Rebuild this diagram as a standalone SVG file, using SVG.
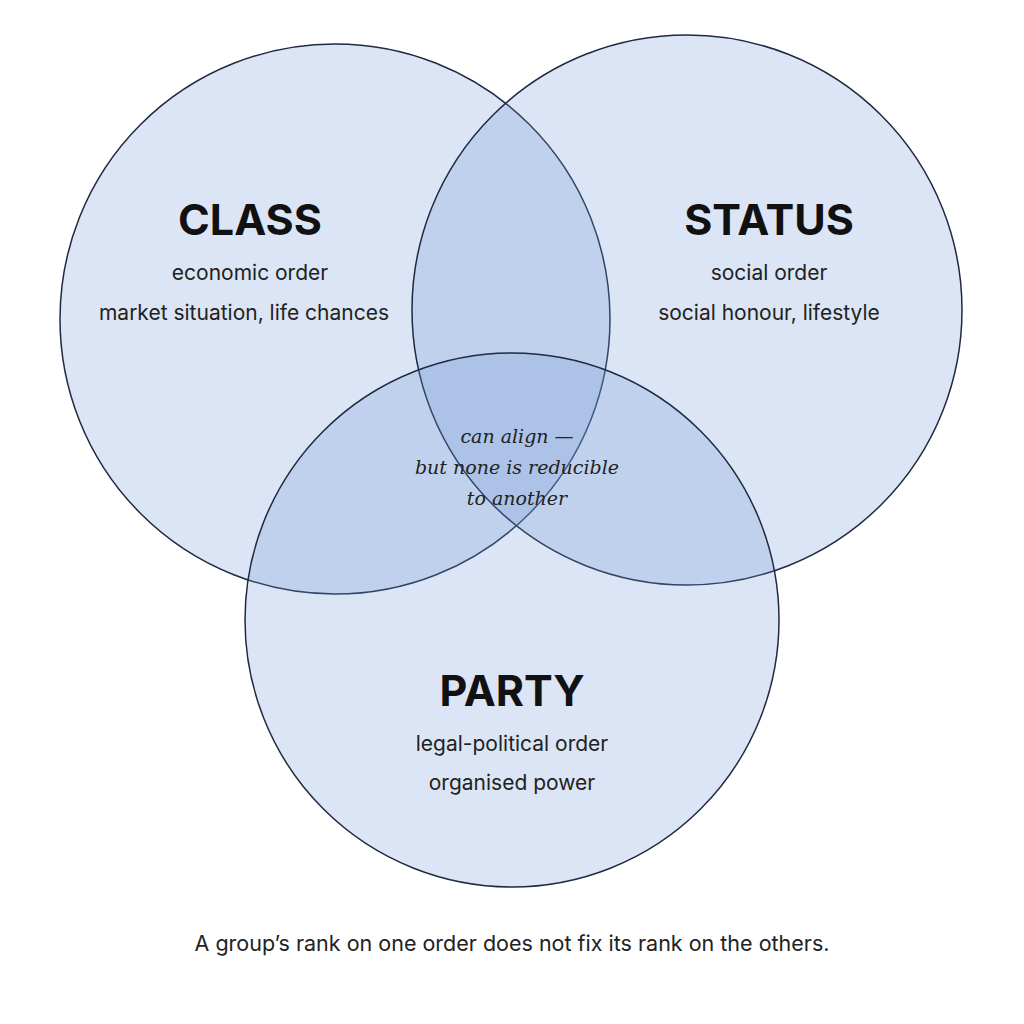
<svg xmlns="http://www.w3.org/2000/svg" width="1024" height="1024" viewBox="0 0 1024 1024">
<style>
.c{fill:#6f96d6;fill-opacity:0.25;stroke:#1f2a40;stroke-width:1.5}
.t{font-family:Inter,"Liberation Sans",sans-serif;font-weight:700;font-size:43px;fill:#111;text-anchor:middle}
.s{font-family:Inter,"Liberation Sans",sans-serif;font-size:21px;fill:#222;text-anchor:middle}
.i{font-family:"DejaVu Serif",serif;font-style:italic;font-size:19px;fill:#222;text-anchor:middle}
</style>
<rect width="1024" height="1024" fill="#fff"/>
<g id="class"><circle class="c" cx="335" cy="319" r="275"/>
<text class="t" x="250" y="235">CLASS</text>
<text class="s" x="250" y="280">economic order</text>
<text class="s" x="244" y="320">market situation, life chances</text></g>
<g id="status"><circle class="c" cx="687" cy="310" r="275"/>
<text class="t" x="769" y="235">STATUS</text>
<text class="s" x="769" y="280">social order</text>
<text class="s" x="769" y="320">social honour, lifestyle</text></g>
<g id="party"><circle class="c" cx="512" cy="620" r="267"/>
<text class="t" x="512" y="706">PARTY</text>
<text class="s" x="512" y="751">legal-political order</text>
<text class="s" x="512" y="790">organised power</text></g>
<g id="center"><text class="i" x="517" y="443">can align —</text>
<text class="i" x="517" y="474">but none is reducible</text>
<text class="i" x="517" y="505">to another</text></g>
<text class="s" x="512" y="951" style="font-size:21.5px">A group’s rank on one order does not fix its rank on the others.</text>
</svg>
